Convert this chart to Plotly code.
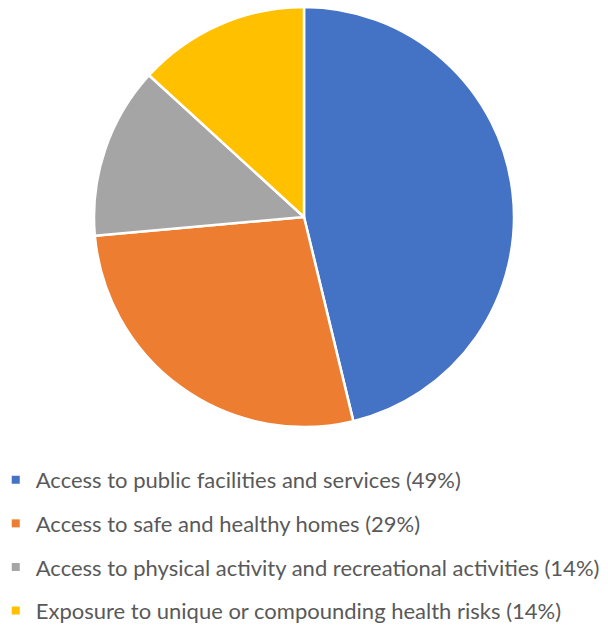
import plotly.graph_objects as go

labels = [
    "Access to public facilities and services (49%)",
    "Access to safe and healthy homes (29%)",
    "Access to physical activity and recreational activities (14%)",
    "Exposure to unique or compounding health risks (14%)",
]
values = [49, 29, 14, 14]
colors = ["#4472C4", "#ED7D31", "#A5A5A5", "#FFC000"]

W, H = 608, 627
fig = go.Figure()
fig.add_trace(go.Pie(
    labels=labels, values=values, sort=False, direction="clockwise", rotation=0,
    marker=dict(colors=colors, line=dict(color="white", width=2.5)),
    textinfo="none", hoverinfo="label+value", showlegend=False,
    domain=dict(x=[(304 - 210) / W, (304 + 210) / W], y=[1 - 427 / H, 1 - 7 / H]),
))
for lab, col in zip(labels, colors):
    fig.add_trace(go.Scatter(
        x=[None], y=[None], mode="markers", name=lab, legendgroup=lab,
        marker=dict(symbol="square", size=8, color=col),
    ))

fig.update_layout(
    width=W, height=H, margin=dict(l=0, r=0, t=0, b=0, autoexpand=False),
    paper_bgcolor="white", plot_bgcolor="white",
    xaxis=dict(visible=False), yaxis=dict(visible=False),
    font=dict(family="Lato, 'Open Sans', sans-serif", color="#595959"),
    legend=dict(
        x=-0.007, y=0.268, xanchor="left", yanchor="top",
        font=dict(size=22, color="#595959"),
        tracegroupgap=12, itemwidth=30, traceorder="grouped",
        bgcolor="rgba(0,0,0,0)",
    ),
)
fig.write_html("out.html", config={"displayModeBar": False},
               post_script="document.body.style.margin='0';document.body.style.padding='0';")
